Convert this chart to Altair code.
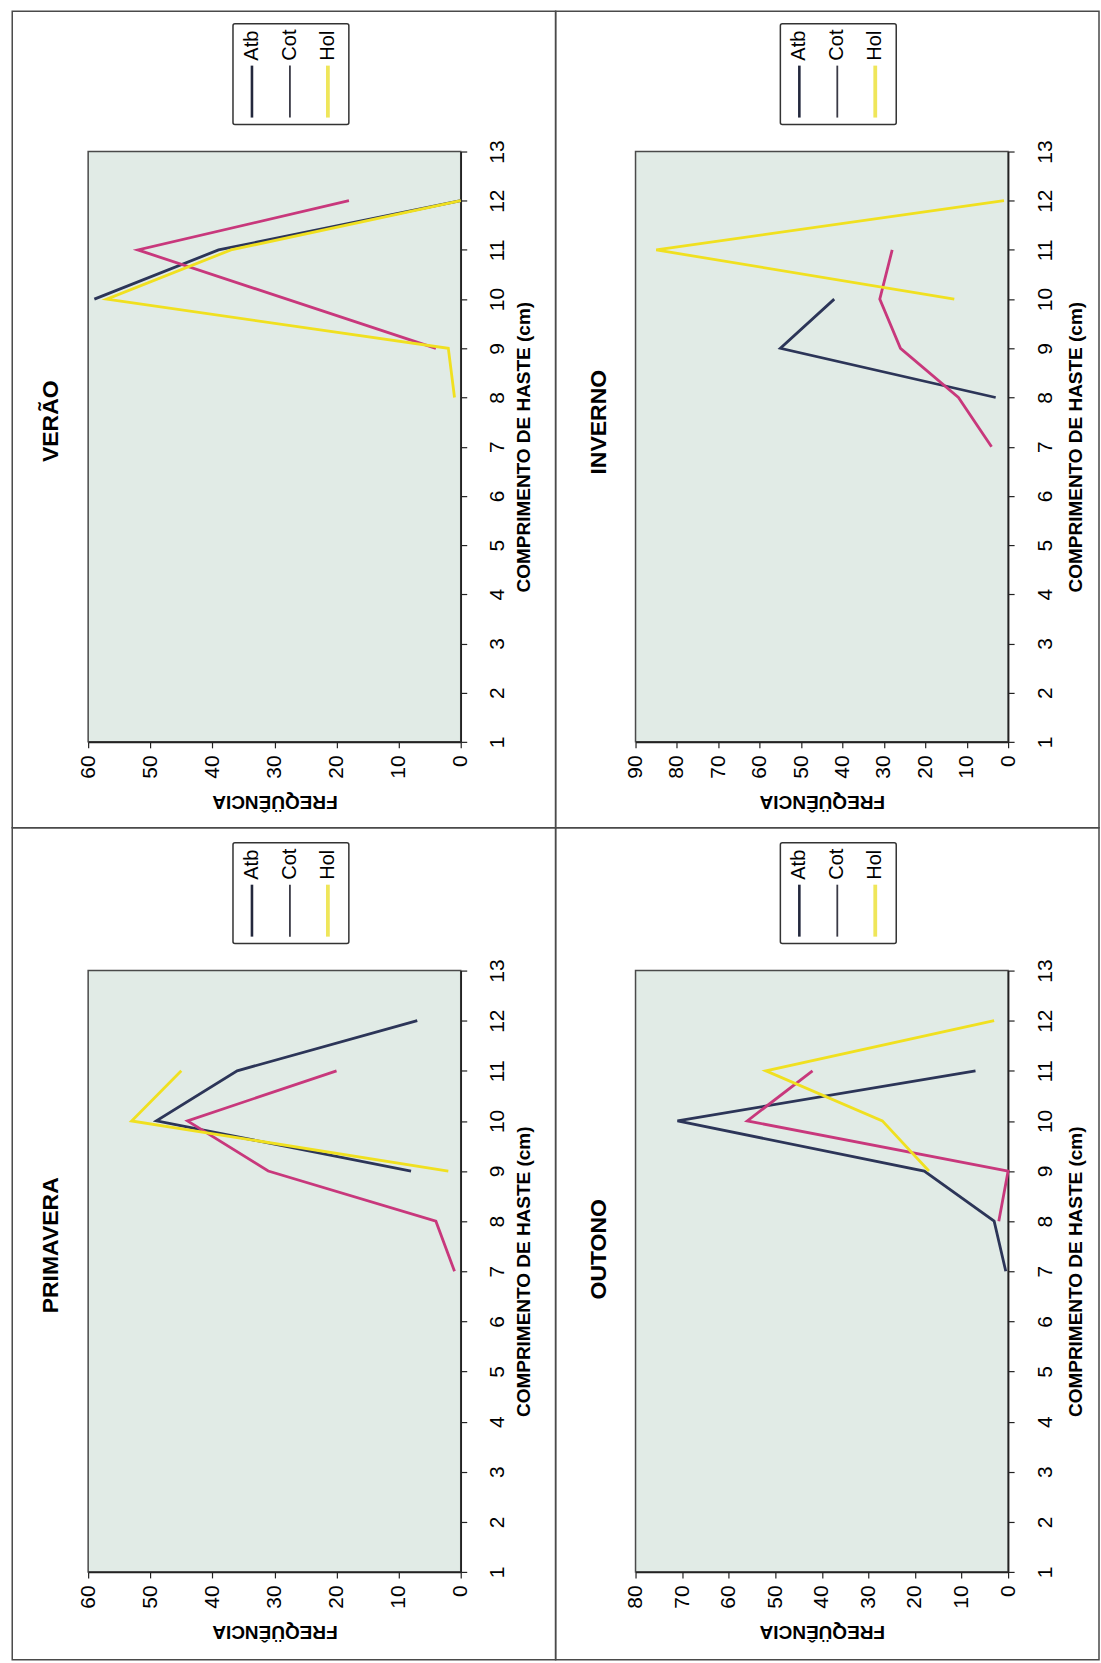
import altair as alt
import pandas as pd

FONT = "Liberation Sans"

panels = ["VERÃO", "INVERNO", "PRIMAVERA", "OUTONO"]
series = ["Atb", "Cot", "Hol"]
line_colors = ["#2c3558", "#c8387c", "#f0e020"]
legend_colors = ["#23283d", "#3a3a46", "#efe65a"]
freq_max = [60, 90, 60, 80]
comp_ticks = list(range(1, 14))

# comprimento de haste (cm) / frequência, per panel and series
ver_atb_c = [10, 11, 12]
ver_atb_f = [59, 39, 0]
ver_cot_c = [9, 11, 12]
ver_cot_f = [4, 52, 18]
ver_hol_c = [8, 9, 10, 11, 12]
ver_hol_f = [1, 2, 57, 37, 0]

inv_atb_c = [8, 9, 10]
inv_atb_f = [3, 55, 42]
inv_cot_c = [7, 8, 9, 10, 11]
inv_cot_f = [4, 12, 26, 31, 28]
inv_hol_c = [10, 11, 12]
inv_hol_f = [13, 85, 1]

pri_atb_c = [9, 10, 11, 12]
pri_atb_f = [8, 49, 36, 7]
pri_cot_c = [7, 8, 9, 10, 11]
pri_cot_f = [1, 4, 31, 44, 20]
pri_hol_c = [9, 10, 11]
pri_hol_f = [2, 53, 45]

out_atb_c = [7, 8, 9, 10, 11]
out_atb_f = [0.5, 3, 18, 71, 7]
out_cot_c = [8, 9, 10, 11]
out_cot_f = [2, 0, 56, 42]
out_hol_c = [9, 10, 11, 12]
out_hol_f = [17, 27, 52, 3]

panel_series = [
    [(ver_atb_c, ver_atb_f), (ver_cot_c, ver_cot_f), (ver_hol_c, ver_hol_f)],
    [(inv_atb_c, inv_atb_f), (inv_cot_c, inv_cot_f), (inv_hol_c, inv_hol_f)],
    [(pri_atb_c, pri_atb_f), (pri_cot_c, pri_cot_f), (pri_hol_c, pri_hol_f)],
    [(out_atb_c, out_atb_f), (out_cot_c, out_cot_f), (out_hol_c, out_hol_f)],
]

W = 373
heights = [591, 591, 602, 602]
# page frame around each panel, relative to its plot area (x1, x2, y1, y2)
frames = [(-76, 468, -140.5, 677), (-80, 464, -140.5, 677),
          (-76, 468, -143, 690), (-80, 464, -143, 690)]
title_y = [270, 271, 275, 279]
comp_title_x = [63, 67, 63, 67]

one = pd.DataFrame({"k": [0]})


def make_panel(i):
    rows = []
    for s, (cs, fs) in zip(series, panel_series[i]):
        for c, f in zip(cs, fs):
            rows.append({"serie": s, "c": c, "f": f})
    df = pd.DataFrame(rows)
    fmax = freq_max[i]

    x = alt.X(
        "f:Q",
        scale=alt.Scale(domain=[0, fmax], reverse=True, nice=False),
        axis=alt.Axis(
            values=list(range(0, fmax + 1, 10)), title="FREQÜÊNCIA",
            labelAngle=270, labelAlign="right", labelBaseline="middle",
            labelPadding=7, tickSize=6, titleAngle=180, titleY=60,
            titleAlign="center", titleBaseline="middle", grid=False,
            labelFlush=False, labelOverlap=False,
        ),
    )
    y = alt.Y(
        "c:Q",
        scale=alt.Scale(domain=[1, 13], nice=False, zero=False),
        axis=alt.Axis(
            orient="right", values=comp_ticks,
            title="COMPRIMENTO DE HASTE (cm)", labelAngle=270,
            labelAlign="center", labelBaseline="top", labelPadding=20,
            tickSize=6, titleAngle=270, titleX=comp_title_x[i],
            titleAlign="center", titleBaseline="middle", grid=False,
            labelFlush=False, labelOverlap=False,
        ),
    )
    lines = alt.Chart(df).mark_line(strokeWidth=2.8).encode(
        x=x, y=y,
        color=alt.Color("serie:N", scale=alt.Scale(domain=series, range=line_colors), legend=None),
        order=alt.Order("c:Q"),
    )

    fx1, fx2, fy1, fy2 = frames[i]
    frame = alt.Chart(one).mark_rect(fillOpacity=0, stroke="#4a4a4a", strokeWidth=1.5).encode(
        x=alt.value(fx1), x2=alt.value(fx2), y=alt.value(fy1), y2=alt.value(fy2)
    )
    title = alt.Chart(one).mark_text(
        text=panels[i], angle=270, align="center", baseline="middle",
        fontSize=23, fontWeight="bold", font=FONT, color="black",
    ).encode(x=alt.value(-37), y=alt.value(title_y[i]))

    box = alt.Chart(one).mark_rect(fill="white", stroke="#333", strokeWidth=1.5, cornerRadius=2).encode(
        x=alt.value(145), x2=alt.value(261), y=alt.value(-128), y2=alt.value(-27)
    )
    legend_layers = [box]
    for s, lx, lc, lw in zip(series, [164, 202, 240], legend_colors, [2.6, 1.8, 3.8]):
        legend_layers.append(
            alt.Chart(one).mark_rule(color=lc, strokeWidth=lw).encode(
                x=alt.value(lx), y=alt.value(-86), y2=alt.value(-34)
            )
        )
        legend_layers.append(
            alt.Chart(one).mark_text(
                text=s, angle=270, align="left", baseline="middle",
                fontSize=20, font=FONT, color="black",
            ).encode(x=alt.value(lx), y=alt.value(-91))
        )

    return alt.layer(frame, lines, title, *legend_layers).properties(width=W, height=heights[i])


chart = alt.concat(
    *[make_panel(i) for i in range(4)],
    columns=2,
    spacing=alt.RowColnumber(row=229, column=175),
    bounds="flush",
    align="each",
).properties(
    padding={"left": 10.25, "top": 8.75, "right": 0, "bottom": 0},
    background="white",
).configure_view(
    fill="#e1ebe6", stroke="#4a4a4a", strokeWidth=1.5
).configure_axis(
    labelFont=FONT, titleFont=FONT, labelFontSize=21, titleFontSize=19,
    titleFontWeight="bold", labelColor="black", titleColor="black",
    domainColor="#222", tickColor="#222", domainWidth=1.6, tickWidth=1.2,
)

chart.save("out.html", embed_options={"renderer": "svg", "actions": False})
